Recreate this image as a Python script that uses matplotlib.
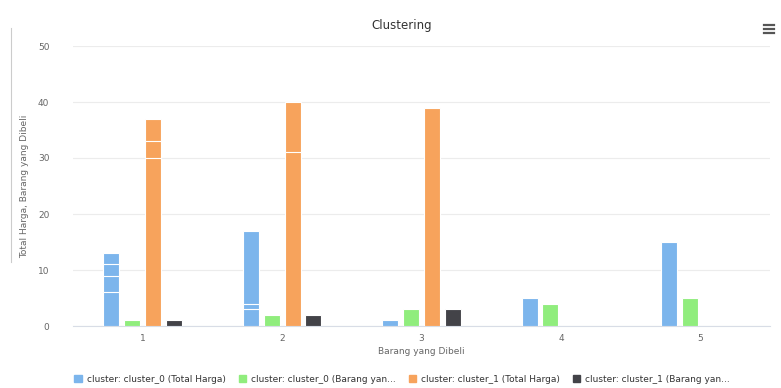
import numpy as np
import matplotlib
matplotlib.use("Agg")
import matplotlib.pyplot as plt
from matplotlib.lines import Line2D
from matplotlib.patches import Patch

# data: several points can fall on the same category (drawn overlapping)
categories = ["1", "2", "3", "4", "5"]
c0_total = [[13, 11, 9, 6], [17, 4, 3], [1], [5], [15]]
c0_barang = [[1], [2], [3], [4], [5]]
c1_total = [[37, 33, 30], [40, 31], [39], [], []]
c1_barang = [[1], [2], [3], [], []]

series_names = [
    "cluster: cluster_0 (Total Harga)",
    "cluster: cluster_0 (Barang yan...",
    "cluster: cluster_1 (Total Harga)",
    "cluster: cluster_1 (Barang yan...",
]
series_data = [c0_total, c0_barang, c1_total, c1_barang]
colors = ["#7cb5ec", "#90ed7d", "#f7a35c", "#434348"]

fig = plt.figure(figsize=(7.81, 3.88), dpi=100)
ax = fig.add_axes([73 / 781, 1 - 326 / 388, 697 / 781, 280 / 388])

x = np.arange(len(categories))
width = 0.115
step = 0.15
offsets = (np.arange(4) - 1.5) * step

for s, (vals, col) in enumerate(zip(series_data, colors)):
    for i, pts in enumerate(vals):
        for v in sorted(pts, reverse=True):
            ax.bar(x[i] + offsets[s], v, width, color=col,
                   edgecolor="white", linewidth=0.8, zorder=3)

ax.set_xlim(-0.5, len(categories) - 0.5)
ax.set_ylim(0, 50)
ax.set_yticks([0, 10, 20, 30, 40, 50])
ax.set_xticks(x)
ax.set_xticklabels(categories)
ax.grid(axis="y", color="#ececec", linewidth=0.8, zorder=0)
for side in ["top", "right", "left"]:
    ax.spines[side].set_visible(False)
ax.spines["bottom"].set_color("#d8dde6")
ax.tick_params(axis="both", length=0, labelsize=6.5, labelcolor="#666666")
ax.tick_params(axis="y", pad=17)
ax.tick_params(axis="x", pad=6)
ax.set_xlabel("Barang yang Dibeli", fontsize=6.5, color="#666666", labelpad=3)
ax.set_ylabel("Total Harga, Barang yang Dibeli", fontsize=6.5, color="#666666", labelpad=6)

fig.text(402 / 781, 1 - 25 / 388, "Clustering", ha="center", va="center",
         fontsize=8.5, color="#333333")

# menu icon
for dy in (-4, 0, 4):
    fig.add_artist(Line2D([764 / 781, 774 / 781], [1 - (29 + dy) / 388] * 2,
                          color="#555555", linewidth=1.6))

# page edge line on the left
fig.add_artist(Line2D([11 / 781, 11 / 781], [1 - 28 / 388, 1 - 262 / 388],
                      color="#cccccc", linewidth=0.8))

handles = [Patch(color=c) for c in colors]
fig.legend(handles, series_names, loc="center", bbox_to_anchor=(0.515, 1 - 379 / 388),
           ncol=4, frameon=False, fontsize=6.5, labelcolor="#333333",
           handlelength=0.8, handleheight=0.8, handletextpad=0.6, columnspacing=1.4)

fig.savefig("out.png", dpi=100, facecolor="white")
